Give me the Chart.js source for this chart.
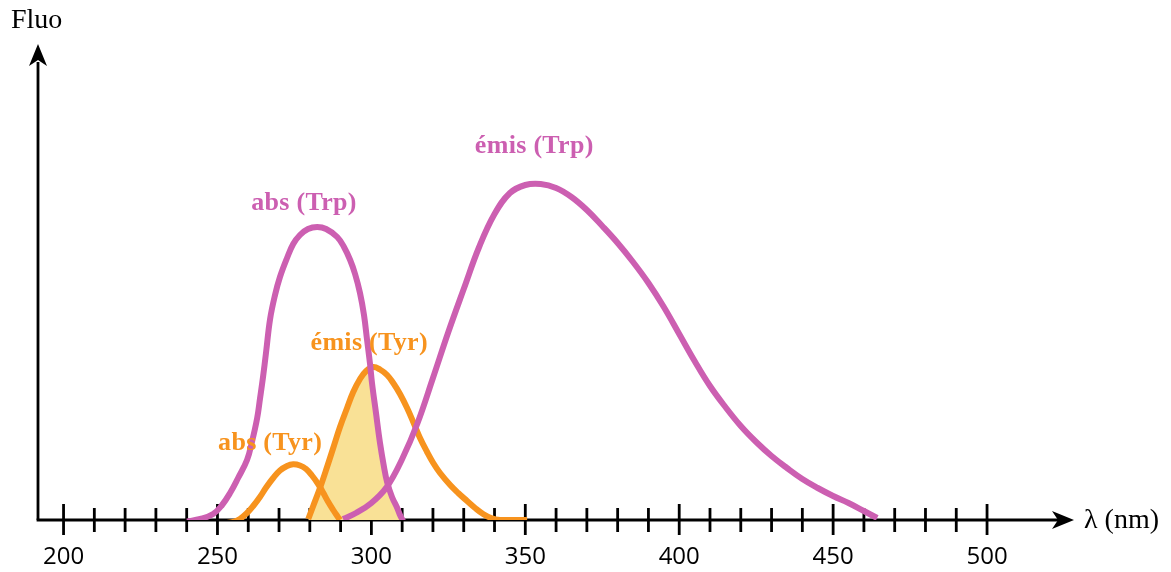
<!DOCTYPE html>
<html>
<head>
<meta charset="utf-8">
<script src="https://cdn.jsdelivr.net/npm/chart.js@4.4.1/dist/chart.umd.min.js"></script>
<style>
  html, body { margin: 0; padding: 0; background: #fff; }
</style>
</head>
<body>
<canvas id="c" width="1171" height="572"></canvas>
<script>
// wavelength (nm) / fluo (arbitrary units)
const absTrpX = [240.1, 244.4, 248.6, 251.5, 254.1, 256.7, 259.6, 261.2, 262.9, 263.8, 264.8, 265.8, 267.1, 268.7, 270.3, 272.6, 274.6, 276.8, 279.4, 282.4, 285.3, 288.9, 291.1, 293.1, 294.7, 296.3, 297.6, 298.6, 299.6, 300.2, 301.5, 302.8, 304.1, 305.1, 306.7, 308.4, 309.3, 310.3];
const absTrpY = [-1.5, 1, 6, 15, 27, 42, 60, 78, 102, 121, 143, 168, 201, 225, 243, 262, 276, 285, 291, 293, 291, 283, 273, 260, 246, 227, 205, 180, 155, 137, 107, 77, 53, 38, 23, 12, 5, -1];

const emisTrpX = [290.8, 295, 300, 305, 310, 315, 320, 325, 330, 335, 340, 345, 350, 355, 360, 365, 370, 375, 380, 385, 390, 395, 400, 405, 410, 415, 420, 425, 430, 435, 440, 445, 450, 455, 460, 464.3];
const emisTrpY = [1, 7, 17, 33, 61, 97, 142, 188, 231, 273, 306, 327, 335, 336, 332, 323, 310, 294, 277, 258, 237, 213, 186, 159, 134, 113, 94, 78, 64, 52, 41, 32, 24, 17, 9, 2];

const absTyrX = [250.2, 252.5, 255.1, 257.3, 259.6, 261.6, 263.8, 265.8, 268.1, 270.3, 272.6, 274.6, 276.8, 278.8, 280.7, 282.7, 284.3, 285.9, 287.6, 288.9, 289.8];
const absTyrY = [-3, -3, -2, 1, 7, 14, 23, 32.5, 42, 49.5, 54, 55.7, 54.5, 51, 44.5, 36, 27.5, 18.5, 10, 4, 0];

const emisTyrX = [279.5, 281.1, 283.3, 285.6, 287.6, 289.8, 292.1, 294.1, 296.3, 298.3, 300.6, 302.8, 305.1, 307.1, 309.3, 311.6, 313.6, 315.8, 318.1, 320.1, 322.3, 325.6, 328.2, 331.1, 333.7, 336.3, 338.9, 341.8, 346.7, 350.6];
const emisTyrY = [1, 14, 32, 53, 72, 93, 112, 128, 141, 149, 153, 150.5, 145, 137, 126, 112, 98, 82, 68, 57, 47, 35, 27, 19, 12, 6, 2, 0, 0, 0];

// yellow overlap area (emission Tyr under absorption Trp)
const overlapX = [279.5, 281.1, 283.3, 285.6, 287.6, 289.8, 292.1, 294.1, 296.3, 298.3, 299.5, 300.0, 301.2, 302.5, 303.8, 304.8, 306.3, 307.8, 309.0, 309.6];
const overlapY = [0, 14, 32, 53, 72, 93, 112, 128, 141, 149, 150, 137, 107, 77, 53, 38, 23, 12, 4, 0];

const majorTicks = [200, 250, 300, 350, 400, 450, 500];
const minorStep = 10;

const PURPLE = "#cc5fb1";
const ORANGE = "#f7931e";
const YELLOW = "#f9e196";

function pts(xs, ys) {
  return xs.map((x, i) => ({ x: x, y: ys[i] }));
}

function curve(data, color, order) {
  return {
    data: data,
    borderColor: color,
    borderWidth: 6,
    pointRadius: 0,
    fill: false,
    tension: 0.4,
    borderCapStyle: "butt",
    order: order,
  };
}

function arrowHead(ctx, x, y, dir) {
  // dir: "up" or "right"
  ctx.save();
  ctx.translate(x, y);
  if (dir == "up") ctx.rotate(-Math.PI / 2);
  ctx.beginPath();
  ctx.moveTo(0, 0);
  ctx.lineTo(-22, -9);
  ctx.lineTo(-16, 0);
  ctx.lineTo(-22, 9);
  ctx.closePath();
  ctx.fillStyle = "#000";
  ctx.fill();
  ctx.restore();
}

const axesPlugin = {
  id: "axes",
  beforeDatasetsDraw(chart) {
    const ctx = chart.ctx;
    const xs = chart.scales.x;
    const ys = chart.scales.y;
    const x0 = chart.chartArea.left;
    const y0 = ys.getPixelForValue(0);
    ctx.save();
    ctx.strokeStyle = "#000";
    ctx.lineWidth = 2.8;
    ctx.lineCap = "butt";
    // x axis
    ctx.beginPath();
    ctx.moveTo(x0 - 1.4, y0);
    ctx.lineTo(1058, y0);
    ctx.stroke();
    // y axis
    ctx.beginPath();
    ctx.moveTo(x0, y0);
    ctx.lineTo(x0, 62);
    ctx.stroke();
    arrowHead(ctx, 1074, y0, "right");
    arrowHead(ctx, x0, 44, "up");

    // ticks
    for (let v = majorTicks[0]; v <= majorTicks[majorTicks.length - 1]; v += minorStep) {
      const px = xs.getPixelForValue(v);
      const major = majorTicks.includes(v);
      ctx.beginPath();
      ctx.moveTo(px, y0 - (major ? 16 : 12));
      ctx.lineTo(px, y0 + (major ? 15 : 12));
      ctx.stroke();
    }

    // tick labels
    ctx.fillStyle = "#000";
    ctx.font = "24px 'Open Sans'";
    ctx.textAlign = "center";
    ctx.textBaseline = "alphabetic";
    for (const v of majorTicks) {
      ctx.fillText(String(v), xs.getPixelForValue(v), 564);
    }

    // axis titles
    ctx.font = "28px 'Liberation Serif'";
    ctx.textAlign = "left";
    ctx.fillText("Fluo", 11, 28);
    ctx.fillText("λ (nm)", 1084, 528);
    ctx.restore();
  },
  afterDatasetsDraw(chart) {
    const ctx = chart.ctx;
    const xs = chart.scales.x;
    const ys = chart.scales.y;
    const labels = [
      ["abs (Trp)", 278.1, 310, PURPLE],
      ["émis (Trp)", 352.9, 367, PURPLE],
      ["émis (Tyr)", 299.3, 170, ORANGE],
      ["abs (Tyr)", 267.1, 70, ORANGE],
    ];
    ctx.save();
    ctx.font = "bold 26px 'Liberation Serif'";
    ctx.letterSpacing = "0.3px";
    ctx.textAlign = "center";
    ctx.textBaseline = "alphabetic";
    for (const [t, x, y, c] of labels) {
      ctx.fillStyle = c;
      ctx.fillText(t, xs.getPixelForValue(x), ys.getPixelForValue(y));
    }
    ctx.restore();
  },
};

new Chart(document.getElementById("c"), {
  type: "line",
  data: {
    datasets: [
      curve(pts(absTrpX, absTrpY), PURPLE, 1),
      curve(pts(emisTrpX, emisTrpY), PURPLE, 2),
      curve(pts(emisTyrX, emisTyrY), ORANGE, 3),
      curve(pts(absTyrX, absTyrY), ORANGE, 4),
      {
        data: pts(overlapX, overlapY),
        borderColor: "rgba(0,0,0,0)",
        borderWidth: 1,
        backgroundColor: YELLOW,
        pointRadius: 0,
        fill: "origin",
        tension: 0.2,
        order: 10,
      },
    ],
  },
  options: {
    responsive: false,
    animation: false,
    devicePixelRatio: 1,
    layout: { padding: { left: 38, right: 111, top: 45, bottom: 52 } },
    plugins: { legend: { display: false }, tooltip: { enabled: false } },
    scales: {
      x: { type: "linear", min: 191.7, max: 523.7, display: false },
      y: { type: "linear", min: 0, max: 475, display: false },
    },
  },
  plugins: [axesPlugin],
});
</script>
</body>
</html>
